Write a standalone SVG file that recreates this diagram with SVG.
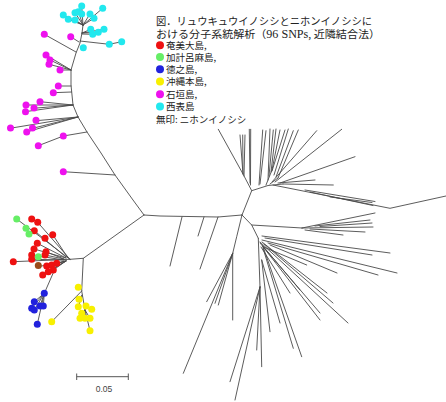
<svg xmlns="http://www.w3.org/2000/svg" width="446" height="402" viewBox="0 0 446 402">
<style>
.br{fill:none;stroke:#4a4a4a;stroke-width:0.9;stroke-linecap:round;stroke-linejoin:round}
.t{font-family:"Noto Sans CJK JP","Liberation Sans",sans-serif;fill:#222}
.r{fill:#ee1111}.g{fill:#66ee66}.b{fill:#2222dd}.y{fill:#f8f000}.m{fill:#ee11ee}.c{fill:#22e8ee}.o{fill:#9a4a1a}
</style>
<rect width="446" height="402" fill="#fff"/>
<g id="legend">
<text class="t" x="156" y="25" font-size="10.5" textLength="216" lengthAdjust="spacingAndGlyphs">図．リュウキュウイノシシとニホンイノシシに</text>
<text class="t" x="156" y="38" font-size="10.5" textLength="224" lengthAdjust="spacingAndGlyphs">おける分子系統解析（<tspan font-family="Liberation Serif, serif" font-size="11.5">96 SNPs,</tspan> 近隣結合法）</text>
<circle class="r" cx="160" cy="45.3" r="4"/><text class="t" x="166" y="48.8" font-size="9.5">奄美大島,</text>
<circle class="g" cx="160" cy="57" r="4"/><text class="t" x="166" y="60.5" font-size="9.5">加計呂麻島,</text>
<circle class="b" cx="160" cy="69.3" r="4"/><text class="t" x="166" y="72.8" font-size="9.5">徳之島,</text>
<circle class="y" cx="160" cy="81.5" r="4"/><text class="t" x="166" y="85" font-size="9.5">沖縄本島,</text>
<circle class="m" cx="160" cy="94.2" r="4"/><text class="t" x="166" y="97.7" font-size="9.5">石垣島,</text>
<circle class="c" cx="160" cy="106.6" r="4"/><text class="t" x="166" y="110.1" font-size="9.5">西表島</text>
<text class="t" x="156" y="123" font-size="9.5">無印: ニホンイノシシ</text>
</g>
<g id="tree" class="br">
<path d="M144,215 L160,216 L218,217 L242,215"/>
<path d="M182,217 L170,266 M204,217 L198,236 M218,217 L200,269"/>
<path d="M242,215 L246,205 L251.7,190.7 L243,174 L218.3,129.3"/>
<path d="M243,174 L240,135 M243,174 L242.7,135 M244,176 L245,135 M250,183 L249.3,129.3 M250.5,185 L250.7,129.3"/>
<path d="M251.7,190.7 L268,185.5 L273,185 L283,184"/>
<path d="M259,185 L262.7,130 M260,184 L266,130.7 M266,185 L272,170 M268,180 L270,129 M269,176 L273.3,130 M271,172 L276,129 M272,170 L280,130 M272,171 L285,130"/>
<path d="M270,184 L278,178 M274,175 L288.3,129 M276,177 L293.3,130.7 M278,178 L298.3,130"/>
<path d="M272,182 L316.7,130.7 M275,182 L341.7,129.3 M280,183 L355,156.7 M283,184 L333.3,185 M278,183 L315,180"/>
<path d="M273,185 L390,208.3 L446,196"/>
<path d="M305,190 L375,201.5 M310,192 L373,205.5 M330,197 L372,202.5"/>
<path d="M242,215 L251.7,225 L302,228"/>
<path d="M302,228 L375,213 M315,226 L370,220 M320,226.5 L372,223 M302,228 L373,227 M310,229 L365,232 M305,230 L343,235"/>
<path d="M251.7,225 L258.3,238.3"/>
<path d="M262,236 L390,253 M265,238 L372,255 M262,240 L397,273 M268,243 L378,275 M270,245 L337,273"/>
<path d="M262,242 L327,293 M264,244 L333,303 M260,242 L348,323 M260,243 L320,313 M263,246.7 L320,320 M263,246.7 L306.7,265 M262,245 L300,290 M261,247 L290,293"/>
<path d="M258.3,238.3 L260,287 M263,246.7 L301.7,356.7 M263,248 L293.3,348.3"/>
<path d="M261.7,260 L280,323 M261.7,260 L270,331.7"/>
<path d="M260,287 L230,381.7 M260,287 L235,400 M260,287 L256.7,350 M260,287 L261.7,366.7"/>
<path d="M242,215 L236.7,236.7 L232.7,253.3 L232.7,320 M232.7,253.3 L206.7,301.7 M232.7,253.3 L215,303.3 M232.7,253.3 L218.3,305 M232.7,253.3 L183.3,373.3"/>
<path d="M144,215 L133,200 L115,175 L101,153 L87,132 L78,117 L73,105 L71,85 L71,70 L76,53 L80,43 L82,33 L83,25"/>
<path d="M115,175 L63.3,171.7 M87,132 L63.3,136 L38.3,145.7"/>
<path d="M78,117 L11.7,128 M78,117 L26.7,132 M78,117 L32.7,128.3 M78,117 L36,120.7"/>
<path d="M73,105 L26.7,105 M73,105 L25,111.7 M73,105 L33.3,108.3 M73,105 L40,101.7"/>
<path d="M71,86 L58.3,86 M71.5,92 L53.3,92.7"/>
<path d="M71,70 L60,70 M71,70 L49,64.3 M71,70 L50,60 M71,70 L46,55"/>
<path d="M76,52 L44.3,34.3 M79,42 L70.7,36.7 M80,41 L109.3,44.3 L121.7,41.7"/>
<path d="M82,33 L90.7,29.3 M82,33 L98.3,32.3 M82,33 L104,29.3 M82,34 L92.7,34.3"/>
<path d="M83,25 L102.7,8.3 M83,25 L94,18.3 M83,25 L90,14 M83,25 L81.7,6 M83,25 L78.3,11.7 M83,25 L75,12.7 M83,25 L63.3,15 M83,25 L68.3,19.3 M83,25 L75,20"/>
<path d="M144,215 L83.3,258.3 L70,259.3"/>
<path d="M70,259.3 L16.7,219 M70,259.3 L37.7,222.3 L31.7,219 M68,258 L52.7,234.7 M66,257 L34.3,230.7 M66,258 L34,249 M66,258 L37.3,243.3"/>
<path d="M70,259.3 L13.3,261.7 M64,260 L31.7,255 M64,260 L31.7,259.3 M64,259 L46,251.7 M64,259 L45,255"/>
<path d="M66,261 L46.7,266 M66,261 L51.7,265 M66,261 L53.3,270 M66,261 L48.3,271.7 M66,261 L42.7,275 M66,261 L38.3,266.7"/>
<path d="M58,262 L44.3,293.3 L37.3,324.3 M44.3,293.3 L34.3,301.7 M44.3,293.3 L40,306 M44.3,293.3 L43.3,306 M44.3,293.3 L31.7,308.3 M44.3,293.3 L34.3,310"/>
<path d="M83.3,258.3 L81.7,291 L85,310 L90,330.7 M81.7,291 L51.7,321.7 M82,295 L79,299.3 M82,296 L78.3,306.7 M84,305 L86,306 M84,305 L91.7,309.3 M85,310 L81.7,313.3 M85,310 L80,318.3 M85,310 L85,318.3 M85,310 L90,318.3"/>
</g>
<g id="tips">
<g class="m">
<circle cx="63.3" cy="171.7" r="3.5"/><circle cx="63.3" cy="136" r="3.5"/><circle cx="38.3" cy="145.7" r="3.5"/>
<circle cx="10.5" cy="128" r="3.5"/><circle cx="26.7" cy="132" r="3.5"/><circle cx="32.5" cy="128" r="3.5"/><circle cx="36" cy="120.3" r="3.5"/>
<circle cx="26" cy="105" r="3.5"/><circle cx="25.5" cy="111.7" r="3.5"/><circle cx="34" cy="108" r="3.5"/><circle cx="40" cy="101.7" r="3.5"/>
<circle cx="53.3" cy="92.7" r="3.5"/><circle cx="58.3" cy="86" r="3.5"/>
<circle cx="46" cy="55" r="3.5"/><circle cx="50" cy="60" r="3.5"/><circle cx="49" cy="64.3" r="3.5"/><circle cx="60" cy="70" r="3.5"/>
<circle cx="44.3" cy="34.3" r="3.5"/><circle cx="70.7" cy="36.7" r="3.5"/>
</g>
<g class="c">
<circle cx="63.3" cy="15" r="3.5"/><circle cx="68.3" cy="19.3" r="3.5"/><circle cx="75" cy="12.7" r="3.5"/><circle cx="78.3" cy="11.7" r="3.5"/><circle cx="81.7" cy="6" r="3.5"/><circle cx="81.7" cy="14" r="3.5"/><circle cx="75" cy="20" r="3.5"/>
<circle cx="90" cy="14" r="3.5"/><circle cx="94" cy="18.3" r="3.5"/><circle cx="102.7" cy="8.3" r="3.5"/>
<circle cx="90.7" cy="29.3" r="3.5"/><circle cx="98.3" cy="32.3" r="3.5"/><circle cx="104" cy="29.3" r="3.5"/><circle cx="92.7" cy="34.3" r="3.5"/>
<circle cx="83.3" cy="47.7" r="3.5"/><circle cx="109.3" cy="44.3" r="3.5"/><circle cx="121.7" cy="41.7" r="3.5"/>
</g>
<g class="r">
<circle cx="31.7" cy="219" r="3.5"/><circle cx="37.7" cy="222.3" r="3.5"/><circle cx="34.3" cy="230.7" r="3.5"/><circle cx="52.7" cy="234.7" r="3.5"/><circle cx="45" cy="238.3" r="3.5"/>
<circle cx="37.3" cy="243.3" r="3.5"/><circle cx="34" cy="249" r="3.5"/><circle cx="31.7" cy="255" r="3.5"/><circle cx="31.7" cy="259.3" r="3.5"/><circle cx="46" cy="251.7" r="3.5"/><circle cx="45" cy="255" r="3.5"/>
<circle cx="13.3" cy="261.7" r="3.5"/><circle cx="46.7" cy="266" r="3.5"/><circle cx="51.7" cy="265" r="3.5"/><circle cx="56.7" cy="263.3" r="3.5"/><circle cx="53.3" cy="270" r="3.5"/><circle cx="48.3" cy="271.7" r="3.5"/><circle cx="42.7" cy="275" r="3.5"/>
</g>
<circle class="o" cx="38.3" cy="265.5" r="3.5"/>
<g class="g">
<circle cx="16.7" cy="219" r="3.5"/><circle cx="26" cy="228.3" r="3.5"/><circle cx="29" cy="234" r="3.5"/><circle cx="38.3" cy="256.7" r="3.5"/>
</g>
<g class="b">
<circle cx="44.3" cy="293.3" r="3.5"/><circle cx="34.3" cy="301.7" r="3.5"/><circle cx="40" cy="306" r="3.5"/><circle cx="43.3" cy="306" r="3.5"/><circle cx="31.7" cy="308.3" r="3.5"/><circle cx="34.3" cy="310" r="3.5"/><circle cx="37.3" cy="324.3" r="3.5"/>
</g>
<g class="y">
<circle cx="78.3" cy="287.3" r="3.5"/><circle cx="79" cy="299.3" r="3.5"/><circle cx="78.3" cy="306.7" r="3.5"/><circle cx="86" cy="306" r="3.5"/><circle cx="91.7" cy="309.3" r="3.5"/>
<circle cx="81.7" cy="313.3" r="3.5"/><circle cx="80" cy="318.3" r="3.5"/><circle cx="85" cy="318.3" r="3.5"/><circle cx="90" cy="318.3" r="3.5"/><circle cx="90" cy="330.7" r="3.5"/><circle cx="51.7" cy="321.7" r="3.5"/>
</g>
</g>
<g id="scale">
<path d="M76.7,376.7 H128.3 M76.7,373.5 V380 M128.3,373.5 V380" fill="none" stroke="#555" stroke-width="1"/>
<text x="104" y="392" font-size="8.5" text-anchor="middle" fill="#444" font-family="Liberation Sans, sans-serif">0.05</text>
</g>
</svg>
